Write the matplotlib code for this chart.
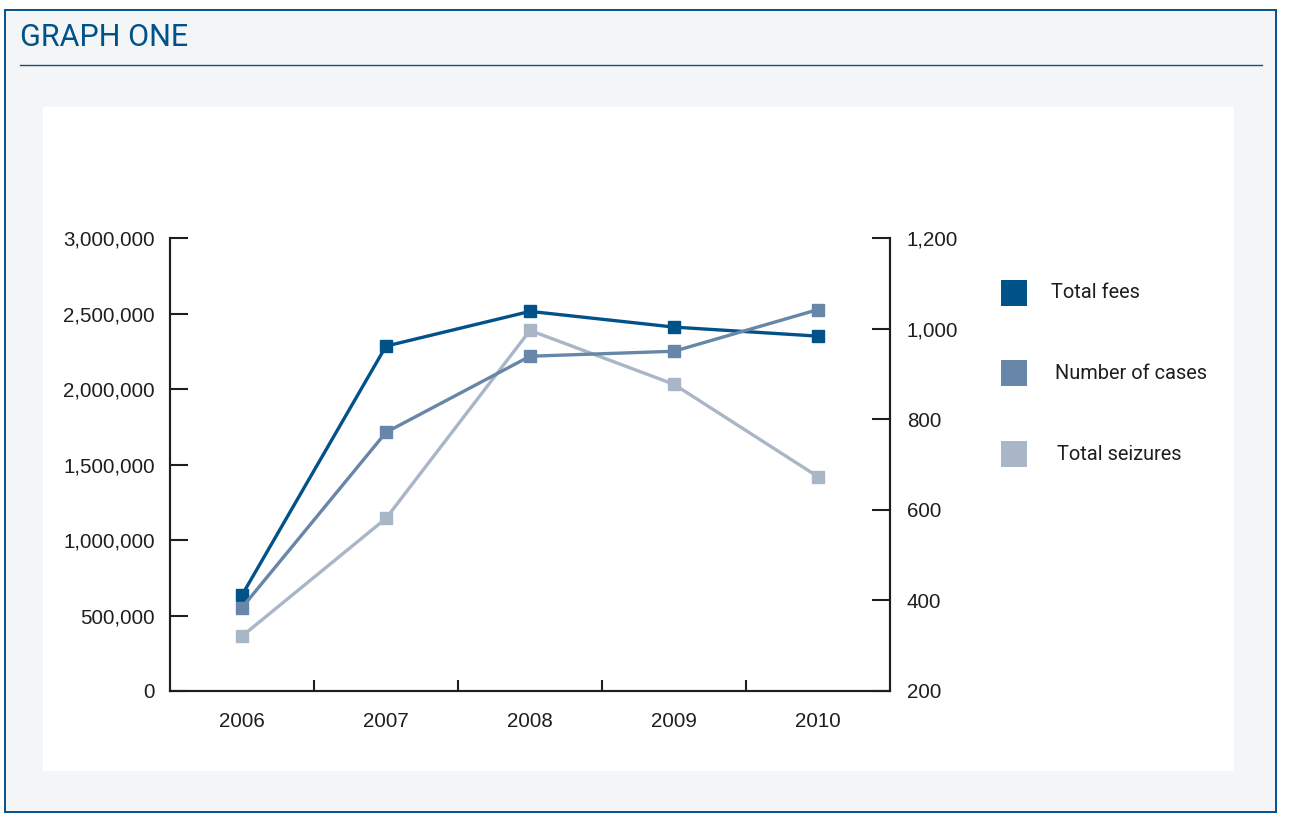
import matplotlib.pyplot as plt
from matplotlib.patches import Rectangle
from matplotlib.lines import Line2D
from matplotlib.ticker import FuncFormatter

# values
years = ["2006", "2007", "2008", "2009", "2010"]
total_fees = [635000, 2284000, 2514000, 2410000, 2350000]   # left axis
number_of_cases = [384, 771, 939, 950, 1042]                # right axis
total_seizures = [321, 581, 996, 877, 673]                  # right axis

left_ticks = [0, 500000, 1000000, 1500000, 2000000, 2500000, 3000000]
right_ticks = [200, 400, 600, 800, 1000, 1200]

DARK = "#02528a"
MID = "#6886a8"
LIGHT = "#a9b6c6"
INK = "#1e1e1e"
FRAME_BG = "#f4f5f7"

W, H = 1289, 827


def fx(x):
    return x / W


def fy(y):
    return 1 - y / H


fig = plt.figure(figsize=(W / 100, H / 100), dpi=100, facecolor="white")

# outer panel with blue border
fig.add_artist(Rectangle((fx(5), fy(812)), fx(1276) - fx(5), fy(10) - fy(812),
                         transform=fig.transFigure, facecolor=FRAME_BG,
                         edgecolor=DARK, linewidth=1.4, zorder=0))
fig.text(fx(20), fy(37), "GRAPH ONE", family="Roboto", fontsize=22,
         color=DARK, ha="left", va="center")
fig.add_artist(Line2D([fx(20), fx(1262)], [fy(65), fy(65)],
                      transform=fig.transFigure, color="#1d4f73", linewidth=1.0))
# white inner panel
fig.add_artist(Rectangle((fx(43), fy(771)), fx(1234) - fx(43), fy(107) - fy(771),
                         transform=fig.transFigure, facecolor="white",
                         edgecolor="none", zorder=0))

ax = fig.add_axes([fx(170), fy(691), fx(890) - fx(170), fy(238) - fy(691)])
ax.patch.set_alpha(0)
ax2 = ax.twinx()

x = list(range(len(years)))
ax.plot(x, total_fees, color=DARK, lw=2.4, marker="s", ms=8.5, zorder=4)
ax2.plot(x, number_of_cases, color=MID, lw=2.4, marker="s", ms=8.5, zorder=3)
ax2.plot(x, total_seizures, color=LIGHT, lw=2.4, marker="s", ms=8.5, zorder=2)

ax.set_xlim(-0.5, 4.5)
ax.set_ylim(0, 3000000)
ax2.set_ylim(200, 1200)

for a in (ax, ax2):
    for s in a.spines.values():
        s.set_linewidth(1.5)
        s.set_color(INK)
    a.spines["top"].set_visible(False)

ax.set_yticks(left_ticks)
ax.yaxis.set_major_formatter(FuncFormatter(lambda v, p: f"{int(v):,}"))
ax.tick_params(axis="y", direction="in", length=13, width=1.5, color=INK,
               pad=11, labelsize=14.8, labelcolor=INK)
ax2.set_yticks(right_ticks)
ax2.yaxis.set_major_formatter(FuncFormatter(lambda v, p: f"{int(v):,}"))
ax2.tick_params(axis="y", direction="in", length=13, width=1.5, color=INK,
                pad=12, labelsize=14.8, labelcolor=INK)

# ticks between categories, labels under the points
ax.set_xticks([0.5, 1.5, 2.5, 3.5])
ax.set_xticklabels([])
ax.tick_params(axis="x", which="major", direction="in", length=8, width=1.5, color=INK)
ax.set_xticks(x, minor=True)
ax.set_xticklabels(years, minor=True)
ax.tick_params(axis="x", which="minor", length=0, pad=15, labelsize=14.8, labelcolor=INK)

for a in (ax, ax2):
    for lab in a.get_xticklabels(minor=True) + a.get_yticklabels():
        lab.set_family("Liberation Sans")

# legend drawn as squares and labels on the right
legend = [("Total fees", DARK, 293, 1051),
          ("Number of cases", MID, 373, 1055),
          ("Total seizures", LIGHT, 454, 1057)]
for name, col, yc, xt in legend:
    fig.add_artist(Rectangle((fx(1001), fy(yc + 13)), fx(26), 26 / H,
                             transform=fig.transFigure, facecolor=col,
                             edgecolor="none"))
    fig.text(fx(xt), fy(yc), name, family="Roboto", fontsize=14.4,
             color=INK, ha="left", va="center")

fig.savefig("out.png", dpi=100, facecolor="white")
